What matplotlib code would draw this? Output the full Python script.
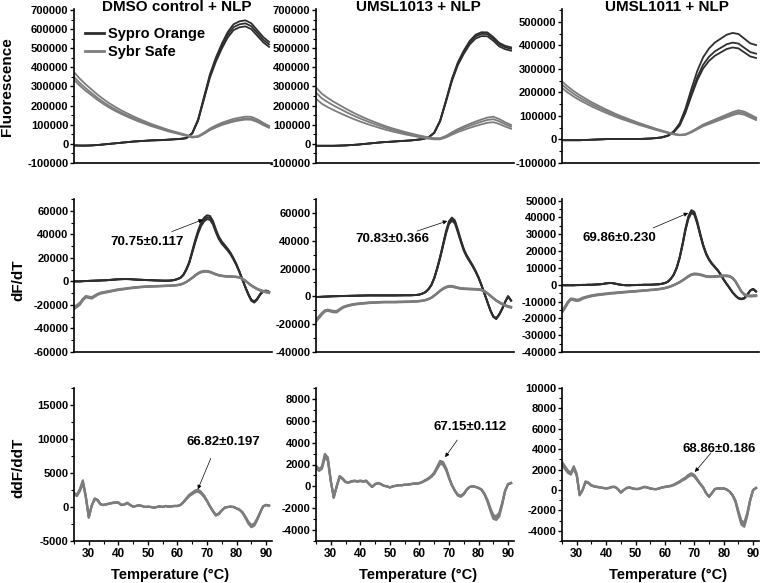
import matplotlib.pyplot as plt
from matplotlib.lines import Line2D
from matplotlib.ticker import MultipleLocator, AutoMinorLocator, FormatStrFormatter
import numpy as np

plt.rcParams['font.family'] = ['Liberation Sans', 'DejaVu Sans']
plt.rcParams['font.weight'] = 'bold'

DARK = '#2e2e2e'
GRAY = '#7c7c7c'

titles = ['DMSO control + NLP', 'UMSL1013 + NLP', 'UMSL1011 + NLP']
row_labels = ['Fluorescence', 'dF/dT', 'ddF/ddT']

# temperature grids (°C)
temp_f = np.arange(25, 92, 2)
temp_d = np.arange(25, 92)

# raw fluorescence, thousands (middle replicate)
sypro_f_dmso = [-8, -9, -9, -8, -6, -3, 0, 3, 6, 9, 12, 14, 16, 18, 19, 20, 22, 24, 26, 30,
                55, 125, 240, 355, 440, 510, 570, 610, 625, 630, 615, 580, 545, 520]
sybr_f_dmso = [350, 318, 290, 265, 240, 218, 198, 180, 164, 149, 135, 122, 110, 98, 88, 78, 68, 60, 52, 44,
               35, 38, 55, 75, 90, 103, 113, 122, 128, 133, 132, 120, 103, 88]
sypro_f_1013 = [-10, -10, -10, -10, -9, -8, -6, -4, -1, 2, 5, 8, 10, 12, 14, 16, 18, 21, 25, 33,
                58, 120, 225, 335, 420, 480, 530, 562, 575, 574, 550, 520, 505, 497]
sybr_f_1013 = [268, 238, 218, 200, 184, 168, 153, 139, 126, 114, 103, 92, 82, 73, 65, 57, 50, 43, 37, 31,
               27, 27, 38, 55, 70, 83, 95, 106, 116, 125, 129, 118, 103, 90]
sypro_f_1011 = [-3, -3, -3, -3, -2, -1, 0, 1, 2, 2, 2, 2, 2, 2, 3, 4, 6, 9, 16, 32,
                62, 120, 195, 265, 318, 352, 375, 390, 405, 412, 408, 390, 372, 365]
sybr_f_1011 = [233, 212, 194, 178, 164, 150, 138, 126, 115, 104, 94, 85, 76, 67, 59, 51, 43, 36, 29, 23,
               19, 21, 32, 46, 60, 70, 80, 90, 100, 110, 117, 112, 100, 88]

# first derivative dF/dT
sypro_d_dmso = [0, 0, 0, 200, 300, 400, 500, 600, 700, 800,
                900, 1000, 1200, 1400, 1600, 1800, 1900, 2000, 2000, 1900,
                1700, 1500, 1400, 1300, 1200, 1100, 1000, 900, 800, 700,
                600, 600, 600, 800, 1200, 2000, 3000, 5500, 10000, 16000,
                25000, 34000, 42000, 48500, 52500, 54500, 54000, 50000, 43000, 37000,
                33000, 30000, 27000, 23500, 19000, 14000, 8000, 1500, -5000, -11000,
                -16000, -17500, -15000, -11000, -8500, -8000, -9000]
sybr_d_dmso = [-22500, -21000, -19000, -15500, -13000, -13500, -14000, -12500, -11000, -10000,
               -9500, -9000, -8500, -8000, -7500, -7000, -6700, -6400, -6000, -5700,
               -5400, -5100, -4900, -4700, -4500, -4400, -4300, -4200, -4100, -4000,
               -3900, -3800, -3700, -3600, -3400, -3100, -2700, -1800, -500, 1200,
               3000, 5000, 6800, 8000, 8500, 8500, 8000, 7000, 6000, 5200,
               4700, 4400, 4200, 4100, 4000, 3800, 3300, 2200, 500, -1500,
               -3500, -5000, -6500, -7500, -8500, -9000, -9500]
sypro_d_1013 = [-500, -400, -300, -200, -100, 0, 100, 150, 200, 250,
                300, 350, 400, 450, 500, 550, 600, 650, 700, 700,
                700, 700, 700, 700, 700, 700, 700, 700, 750, 750,
                800, 800, 800, 900, 1000, 1300, 2000, 3000, 5000, 8000,
                13000, 20000, 28000, 37000, 46000, 53000, 55500, 53500, 47000, 40000,
                33500, 29000, 25500, 22000, 18000, 13500, 8000, 2000, -4000, -10000,
                -14500, -16000, -13000, -9000, -4000, 0, -3000]
sybr_d_1013 = [-17500, -15000, -12500, -10500, -10000, -10500, -11000, -11000, -9500, -8000,
               -7200, -6600, -6100, -5700, -5400, -5200, -5000, -4800, -4600, -4500,
               -4400, -4300, -4200, -4100, -4100, -4100, -4100, -4100, -4000, -4000,
               -3900, -3900, -3800, -3700, -3600, -3400, -3100, -2700, -2000, -1000,
               500, 2200, 4000, 5500, 6600, 7200, 7200, 6700, 6100, 5700,
               5500, 5400, 5300, 5200, 5100, 5000, 4600, 3600, 2200, 500,
               -1300, -3000, -4300, -5500, -6500, -7300, -7800]
sypro_d_1011 = [-300, -300, -300, -300, -300, -200, -200, -100, -100, 0,
                0, 100, 200, 300, 500, 800, 1000, 1000, 700, 300,
                0, -200, -300, -300, -200, -200, -100, -100, 0, 0,
                0, 100, 200, 300, 600, 1000, 1800, 3500, 6000, 10000,
                16000, 24000, 33000, 40000, 43500, 42500, 37000, 30000, 23500, 18500,
                15000, 12500, 10500, 8500, 6000, 3000, 500, -2000, -4500, -6500,
                -8000, -8500, -8000, -6000, -3500, -2500, -4000]
sybr_d_1011 = [-16000, -13500, -10500, -8500, -8800, -9300, -9000, -8000, -7500, -7000,
               -6600, -6300, -6000, -5800, -5600, -5400, -5200, -5000, -4900, -4700,
               -4600, -4400, -4300, -4100, -4000, -3900, -3700, -3600, -3400, -3300,
               -3100, -3000, -2800, -2600, -2300, -2000, -1500, -900, -200, 600,
               1500, 2600, 3800, 5000, 6000, 6400, 6300, 6000, 5500, 5000,
               4800, 4800, 4900, 5000, 5200, 5300, 5300, 5000, 4000, 2000,
               -1000, -4000, -5800, -6500, -6700, -6600, -6500]

# second derivative ddF/ddT (Sybr Safe)
ddf_dmso = [2000, 1700, 2500, 3700, 1500, -1500, 200, 1200, 1000, 400,
            300, 400, 500, 600, 650, 650, 300, 350, 600, 300,
            50, 150, 250, 150, 0, 50, 0, -100, 0, 100,
            0, 150, 50, 100, 150, 150, 300, 700, 1200, 1700,
            2000, 2300, 2400, 2100, 1600, 900, 100, -600, -1200, -1000,
            -500, -100, 0, 50, 0, -200, -400, -800, -1500, -2300,
            -2800, -2600, -1800, -800, 100, 300, 200]
ddf_1013 = [1800, 1500, 1700, 2800, 2500, 500, -1000, 0, 900, 700,
            400, 350, 450, 500, 450, 500, 450, 500, 200, -50,
            200, 300, 200, 50, 0, -100, 0, 50, 100, 100,
            150, 150, 200, 250, 250, 300, 400, 550, 700, 900,
            1200, 1700, 2200, 2100, 1600, 800, 100, -400, -800, -900,
            -700, -300, -50, 0, -50, -150, -300, -700, -1300, -2100,
            -2800, -2900, -2600, -1600, -400, 200, 300]
ddf_1011 = [2600, 2200, 1800, 1600, 2200, 1500, -500, 0, 800, 700,
            450, 350, 300, 250, 200, 150, 200, 300, 300, 100,
            -250, 0, 200, 250, 150, 100, 100, 200, 300, 250,
            150, 100, 80, 150, 250, 300, 350, 400, 500, 650,
            800, 1000, 1150, 1400, 1550, 1400, 1000, 600, 250, -300,
            -650, -300, 100, 150, 150, 150, 50, -150, -500, -1100,
            -2200, -3200, -3400, -2400, -1000, 0, 200]

# replicate spread (relative to the middle replicate)
sypro_f_reps = [[1.025, 1.0, 0.975], [1.015, 1.0, 0.98], [1.10, 1.0, 0.95]]
sybr_f_reps = [[1.07, 1.0, 0.955], [1.10, 1.0, 0.88], [1.06, 1.0, 0.94]]
sypro_d_reps = [[1.03, 1.0, 0.97], [1.02, 1.0, 0.98], [1.02, 1.0, 0.98]]
sybr_d_reps = [[1.04, 1.0, 0.96]] * 3
ddf_reps = [[1.06, 1.0, 0.94]] * 3

# Tm labels: text, text position, arrow tail, arrow tip
tm_labels = [['70.75±0.117', '70.83±0.366', '69.86±0.230'],
             ['66.82±0.197', '67.15±0.112', '68.86±0.186']]
tm_text_xy = [[(49.8, 33800), (50.8, 41200), (44.5, 27900)],
              [(75.7, 9500), (77.0, 5440), (78.4, 4040)]]
tm_tail = [[(58.1, 42300), (59.2, 46900), (56.0, 33800)],
           [(71.3, 7160), (72.8, 4240), (75.7, 3650)]]
tm_tip = [[(68.6, 52500), (69.4, 54200), (67.9, 42700)],
          [(66.9, 2600), (68.7, 2670), (70.2, 1770)]]

ylims = [[(-100000, 705000), (-100000, 705000), (-100000, 555000)],
         [(-60000, 70000), (-40000, 70000), (-40000, 51000)],
         [(-5000, 17500), (-5000, 9000), (-5000, 10000)]]
ysteps = [[100000, 100000, 100000], [20000, 20000, 10000], [5000, 2000, 2000]]

fluor = [(sypro_f_dmso, sybr_f_dmso), (sypro_f_1013, sybr_f_1013), (sypro_f_1011, sybr_f_1011)]
deriv = [(sypro_d_dmso, sybr_d_dmso), (sypro_d_1013, sybr_d_1013), (sypro_d_1011, sybr_d_1011)]
second = [ddf_dmso, ddf_1013, ddf_1011]

W, H = 760, 583
fig = plt.figure(figsize=(W / 100, H / 100), dpi=100)

lefts = [74, 316, 562]
widths = [198, 198, 197]
tops = [9, 199, 388]
bottoms = [163, 352, 541]

axes = [[None] * 3 for _ in range(3)]
for r in range(3):
    for c in range(3):
        ax = fig.add_axes([lefts[c] / W, 1 - bottoms[r] / H, widths[c] / W, (bottoms[r] - tops[r]) / H])
        axes[r][c] = ax
        ax.set_xlim(25, 92)
        ax.set_ylim(*ylims[r][c])
        ax.yaxis.set_major_locator(MultipleLocator(ysteps[r][c]))
        ax.yaxis.set_minor_locator(AutoMinorLocator(2))
        ax.yaxis.set_major_formatter(FormatStrFormatter('%d'))
        for s in ['top', 'right']:
            ax.spines[s].set_visible(False)
        for s in ['left', 'bottom']:
            ax.spines[s].set_linewidth(1.2)
        ax.tick_params(axis='both', which='major', direction='out', length=3, width=1,
                       labelsize=8, pad=1)
        ax.tick_params(axis='both', which='minor', direction='out', length=2, width=0.8)
        if r < 2:
            ax.tick_params(axis='x', which='both', bottom=False, labelbottom=False)
        else:
            ax.xaxis.set_major_locator(MultipleLocator(10))
            ax.xaxis.set_minor_locator(MultipleLocator(5))
            ax.tick_params(axis='x', which='major', labelsize=8.5, pad=2)

        if r == 0:
            sy, sb = fluor[c]
            for k in sypro_f_reps[c]:
                ax.plot(temp_f, np.array(sy) * 1000 * k, color=DARK, lw=1.3)
            for k in sybr_f_reps[c]:
                ax.plot(temp_f, np.array(sb) * 1000 * k, color=GRAY, lw=1.3)
        elif r == 1:
            sy, sb = deriv[c]
            for k in sypro_d_reps[c]:
                ax.plot(temp_d, np.array(sy) * k, color=DARK, lw=1.4)
            for k in sybr_d_reps[c]:
                ax.plot(temp_d, np.array(sb) * k, color=GRAY, lw=1.6)
        else:
            for k in ddf_reps[c]:
                ax.plot(temp_d, np.array(second[c]) * k, color=GRAY, lw=1.6)

        if r >= 1:
            i = r - 1
            ax.text(*tm_text_xy[i][c], tm_labels[i][c], ha='center', va='center',
                    fontsize=9.5, fontweight='bold')
            ax.annotate('', xy=tm_tip[i][c], xytext=tm_tail[i][c],
                        arrowprops=dict(arrowstyle='-|>', lw=0.5, color='black',
                                        mutation_scale=6, shrinkA=0, shrinkB=0))

# legend in first panel
handles = [Line2D([], [], color=DARK, lw=2), Line2D([], [], color=GRAY, lw=2)]
axes[0][0].legend(handles, ['Sypro Orange', 'Sybr Safe'], loc='upper left',
                  bbox_to_anchor=(0.055, 0.885), frameon=False, fontsize=10.5,
                  handlelength=1.3, handletextpad=0.3, labelspacing=0.3,
                  borderaxespad=0, borderpad=0)

# column titles
for c, (cx, t) in enumerate(zip([177, 418, 667], titles)):
    fig.text(cx / W, 1 - 7 / H, t, ha='center', va='center', fontsize=11, fontweight='bold')

# row labels
for (x, y), lab in zip([(7, 87), (18, 280), (18, 468)], row_labels):
    fig.text(x / W, 1 - y / H, lab, ha='center', va='center', rotation=90,
             fontsize=11, fontweight='bold')

# x labels
for cx in [170, 418, 668]:
    fig.text(cx / W, 1 - 575 / H, 'Temperature (°C)', ha='center', va='center',
             fontsize=10.5, fontweight='bold')

fig.savefig('out.png', dpi=100)
